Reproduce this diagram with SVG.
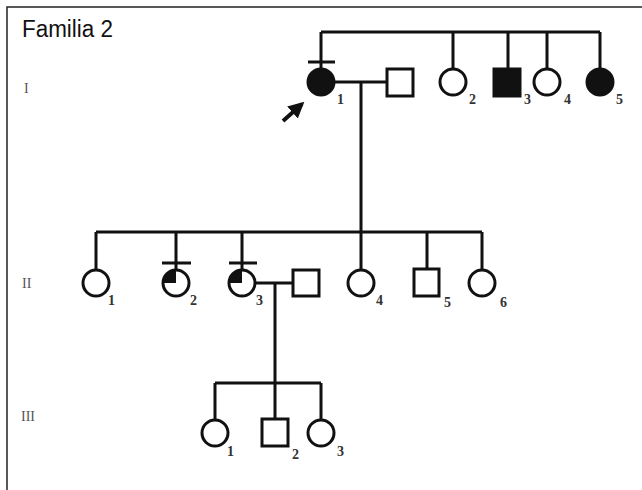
<svg xmlns="http://www.w3.org/2000/svg" width="642" height="490" viewBox="0 0 642 490">
<defs>
<style>
.ln{stroke:#111;stroke-width:3;fill:none}
.o{stroke:#111;stroke-width:3;fill:#fff}
.f{stroke:#111;stroke-width:3;fill:#111}
.num{font-family:"Liberation Serif",serif;font-size:14px;font-weight:bold;fill:#333}
.gen{font-family:"Liberation Serif",serif;font-size:14px;fill:#555}
</style>
<marker id="ah" viewBox="0 0 10 10" refX="8" refY="5" markerWidth="4" markerHeight="4" orient="auto"><path d="M0,0 L10,5 L0,10 Z" fill="#111"/></marker>
</defs>
<rect width="642" height="490" fill="#fff"/>
<path d="M7,490 V7 H642" stroke="#222" stroke-width="1.5" fill="none"/>
<text x="22" y="37" font-family="Liberation Sans,Arial,sans-serif" font-size="23" fill="#111" textLength="91" lengthAdjust="spacingAndGlyphs">Familia 2</text>
<text class="gen" x="24" y="93">I</text>
<text class="gen" x="22" y="288">II</text>
<text class="gen" x="21" y="421">III</text>

<g id="connectors">
<path class="ln" d="M321,32 H600 M321,32 V68 M453,32 V68 M508,32 V69 M547,32 V68 M600,32 V68"/>
<path class="ln" d="M308,62 H335"/>
<path class="ln" d="M334,82 H387 M361,82 V233"/>
<path class="ln" d="M96,232 H482 M96,232 V270 M176,232 V270 M242,232 V270 M361,232 V270 M427,232 V269 M482,232 V270"/>
<path class="ln" d="M162,263 H191 M229,263 H257"/>
<path class="ln" d="M255,283 H293 M275,283 V383"/>
<path class="ln" d="M215,383 H321 M215,383 V420 M275,383 V419 M321,383 V420"/>
<path d="M283,121 L302,104" stroke="#111" stroke-width="4" marker-end="url(#ah)"/>
</g>

<g id="I-1"><circle class="f" cx="321" cy="82" r="13"/><text class="num" x="337" y="104">1</text></g>
<g id="I-spouse"><rect class="o" x="387" y="69" width="26" height="27"/></g>
<g id="I-2"><circle class="o" cx="453" cy="82" r="13"/><text class="num" x="469" y="104">2</text></g>
<g id="I-3"><rect class="f" x="494" y="69" width="26" height="27"/><text class="num" x="524" y="104">3</text></g>
<g id="I-4"><circle class="o" cx="547" cy="82" r="13"/><text class="num" x="564" y="104">4</text></g>
<g id="I-5"><circle class="f" cx="600" cy="82" r="13"/><text class="num" x="616" y="104">5</text></g>

<g id="II-1"><circle class="o" cx="96" cy="283" r="13"/><text class="num" x="108" y="305">1</text></g>
<g id="II-2"><circle class="o" cx="176" cy="283" r="13"/><path d="M176,283 V270 A13,13 0 0 0 163,283 Z" fill="#111"/><text class="num" x="190" y="305">2</text></g>
<g id="II-3"><circle class="o" cx="242" cy="283" r="13"/><path d="M242,283 V270 A13,13 0 0 0 229,283 Z" fill="#111"/><text class="num" x="256" y="305">3</text></g>
<g id="II-3-spouse"><rect class="o" x="293" y="270" width="26" height="26"/></g>
<g id="II-4"><circle class="o" cx="361" cy="283" r="13"/><text class="num" x="376" y="305">4</text></g>
<g id="II-5"><rect class="o" x="414" y="269" width="25" height="27"/><text class="num" x="444" y="307">5</text></g>
<g id="II-6"><circle class="o" cx="482" cy="283" r="13"/><text class="num" x="500" y="307">6</text></g>

<g id="III-1"><circle class="o" cx="215" cy="433" r="13"/><text class="num" x="227" y="456">1</text></g>
<g id="III-2"><rect class="o" x="262" y="419" width="26" height="27"/><text class="num" x="292" y="459">2</text></g>
<g id="III-3"><circle class="o" cx="321" cy="433" r="13"/><text class="num" x="337" y="456">3</text></g>
</svg>
